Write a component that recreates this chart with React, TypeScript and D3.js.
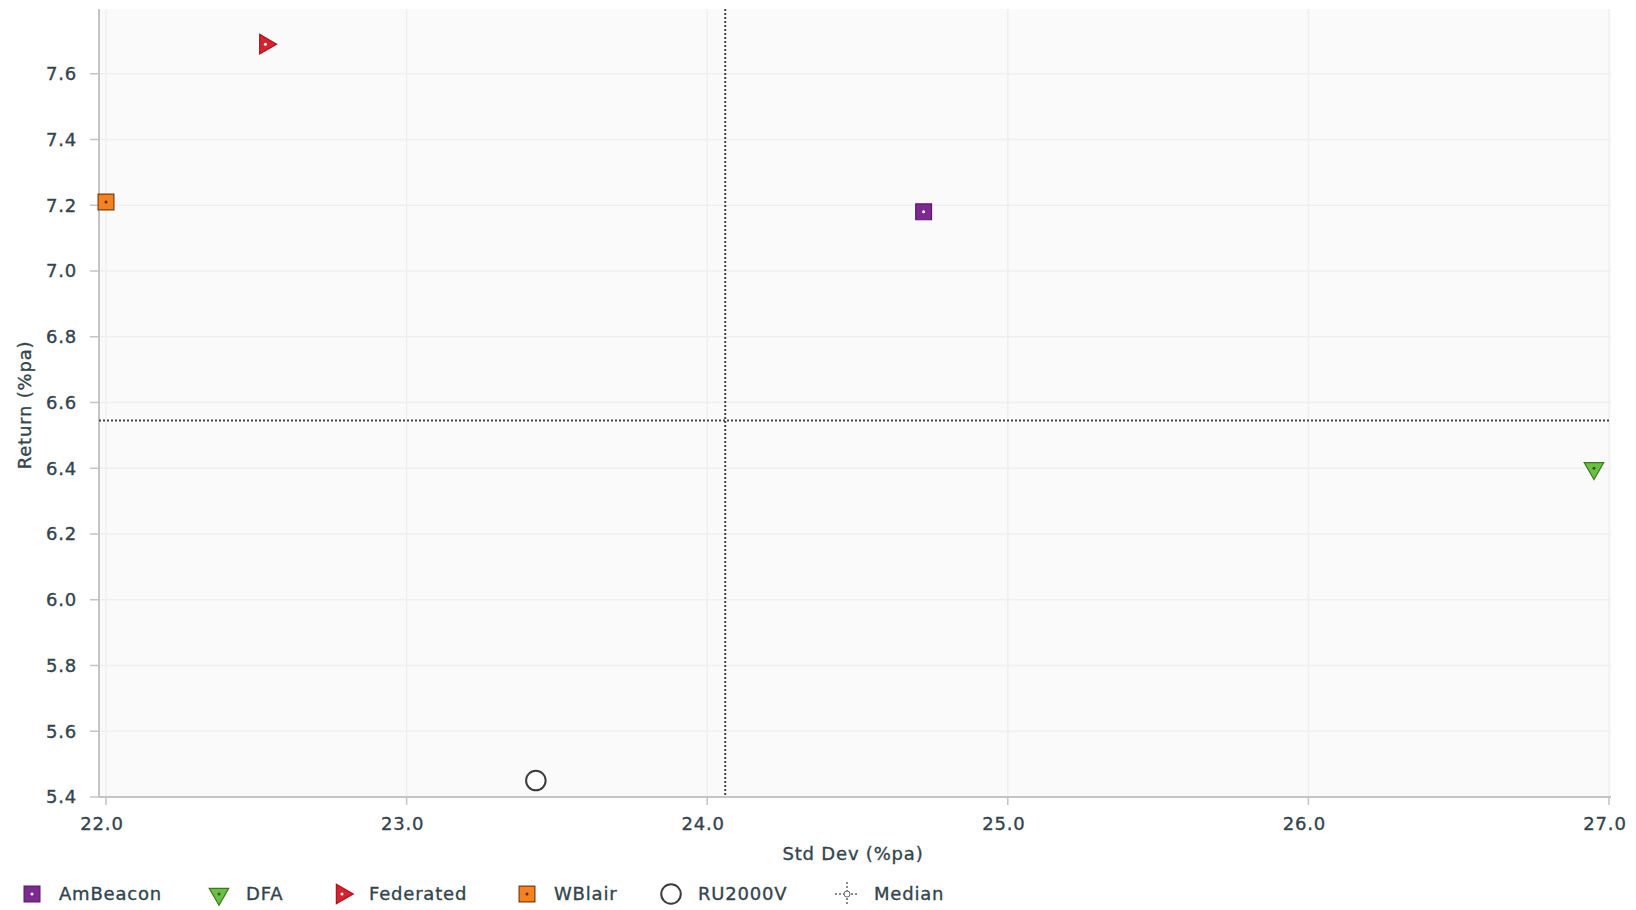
import React from "react";
import * as d3 from "d3";

const seriesNames = ["AmBeacon", "DFA", "Federated", "WBlair", "RU2000V"];
const stdDevs = [24.72, 26.95, 22.53, 22.0, 23.43];
const returns = [7.18, 6.4, 7.69, 7.21, 5.45];
const medianStd = 24.06;
const medianReturn = 6.545;
const xTicks = [22, 23, 24, 25, 26, 27];
const yTicks = [5.4, 5.6, 5.8, 6.0, 6.2, 6.4, 6.6, 6.8, 7.0, 7.2, 7.4, 7.6];

const W = 1636;
const H = 910;
const FONT = "DejaVu Sans, Verdana, sans-serif";
const TEXT = "#33444d";
const FS = 18;
const LS = 0.8;

type Style = { shape: string; fill: string; stroke: string; dot: string; rot: number };
const styles: Style[] = [
  { shape: "square", fill: "#7b2a90", stroke: "#5a1a6c", dot: "#ffffff", rot: 0 },
  { shape: "triangle", fill: "#6cbf45", stroke: "#3a7a1e", dot: "#2d5f16", rot: 180 },
  { shape: "triangle", fill: "#d6232f", stroke: "#a8141e", dot: "#ffffff", rot: 90 },
  { shape: "square", fill: "#f5821f", stroke: "#7a3c0c", dot: "#5a2a06", rot: 0 },
  { shape: "circle", fill: "#ffffff", stroke: "#3c3c3c", dot: "none", rot: 0 },
];

function Marker({ s, cx, cy }: { s: Style; cx: number; cy: number }) {
  let path: string;
  if (s.shape === "square") path = d3.symbol().type(d3.symbolSquare).size(250)()!;
  else if (s.shape === "triangle") path = d3.symbol().type(d3.symbolTriangle).size(165)()!;
  else path = d3.symbol().type(d3.symbolCircle).size(300)()!;
  return (
    <g transform={`translate(${cx},${cy}) rotate(${s.rot})`}>
      <path d={path} fill={s.fill} stroke={s.stroke} strokeWidth={s.shape === "circle" ? 2 : 1.2} />
      {s.dot !== "none" && <circle r={1.5} fill={s.dot} />}
    </g>
  );
}

const textProps = {
  fontFamily: FONT,
  fontSize: FS,
  fill: TEXT,
  letterSpacing: LS,
  stroke: TEXT,
  strokeWidth: 0.35,
};

export default function App() {
  const x = d3.scaleLinear().domain([22, 27]).range([106, 1609]);
  const y = d3.scaleLinear().domain([5.4, 7.8]).range([797, 8]);
  const left = 99;
  const right = 1611;
  const top = 9;
  const bottom = 797;

  const legendX = [32, 219, 342, 527, 671, 847];
  const legendY = 894;

  return (
    <svg width={W} height={H} style={{ position: "absolute", left: 0, top: 0, background: "#fff" }}>
      <rect x={left} y={top} width={right - left} height={bottom - top} fill="#fafafa" />
      {yTicks.map((t) => (
        <line key={"gy" + t} x1={left} x2={right} y1={y(t)} y2={y(t)} stroke="#efefef" strokeWidth={1.5} />
      ))}
      {xTicks.map((t) => (
        <line key={"gx" + t} x1={x(t)} x2={x(t)} y1={top} y2={bottom} stroke="#efefef" strokeWidth={1.5} />
      ))}
      {/* axes */}
      <line x1={left} x2={left} y1={top} y2={bottom} stroke="#c4c4c4" strokeWidth={2} />
      <line x1={left} x2={right} y1={bottom} y2={bottom} stroke="#c4c4c4" strokeWidth={2} />
      {yTicks.map((t) => (
        <g key={"ty" + t}>
          <line x1={left - 9} x2={left} y1={y(t)} y2={y(t)} stroke="#c4c4c4" strokeWidth={1.5} />
          <text x={77} y={y(t)} dy="0.36em" textAnchor="end" {...textProps}>
            {t.toFixed(1)}
          </text>
        </g>
      ))}
      {xTicks.map((t) => (
        <g key={"tx" + t}>
          <line x1={x(t)} x2={x(t)} y1={bottom} y2={bottom + 8} stroke="#c4c4c4" strokeWidth={1.5} />
          <text x={x(t) - 4} y={824} dy="0.36em" textAnchor="middle" {...textProps}>
            {t.toFixed(1)}
          </text>
        </g>
      ))}
      {/* median lines */}
      <line x1={left} x2={right} y1={y(medianReturn)} y2={y(medianReturn)} stroke="#444" strokeWidth={2} strokeDasharray="2,2" />
      <line x1={x(medianStd)} x2={x(medianStd)} y1={top} y2={bottom} stroke="#444" strokeWidth={2} strokeDasharray="2,2" />
      {/* points */}
      {seriesNames.map((n, i) => (
        <Marker key={n} s={styles[i]} cx={x(stdDevs[i])} cy={y(returns[i])} />
      ))}
      {/* axis titles */}
      <text x={853} y={854} dy="0.36em" textAnchor="middle" {...textProps}>
        Std Dev (%pa)
      </text>
      <text transform="translate(25,405) rotate(-90)" dy="0.36em" textAnchor="middle" {...textProps}>
        Return (%pa)
      </text>
      {/* legend */}
      {seriesNames.map((n, i) => (
        <g key={"lg" + n}>
          <Marker s={styles[i]} cx={legendX[i]} cy={legendY} />
          <text x={legendX[i] + 27} y={legendY} dy="0.36em" {...textProps}>
            {n}
          </text>
        </g>
      ))}
      <g transform={`translate(${legendX[5]},${legendY})`}>
        <line x1={-12} x2={12} y1={0} y2={0} stroke="#666" strokeWidth={1.5} strokeDasharray="2,2" />
        <line x1={0} x2={0} y1={-12} y2={12} stroke="#666" strokeWidth={1.5} strokeDasharray="2,2" />
        <circle r={3} fill="#fff" stroke="#666" strokeWidth={1} />
        <text x={27} y={0} dy="0.36em" {...textProps}>
          Median
        </text>
      </g>
    </svg>
  );
}
